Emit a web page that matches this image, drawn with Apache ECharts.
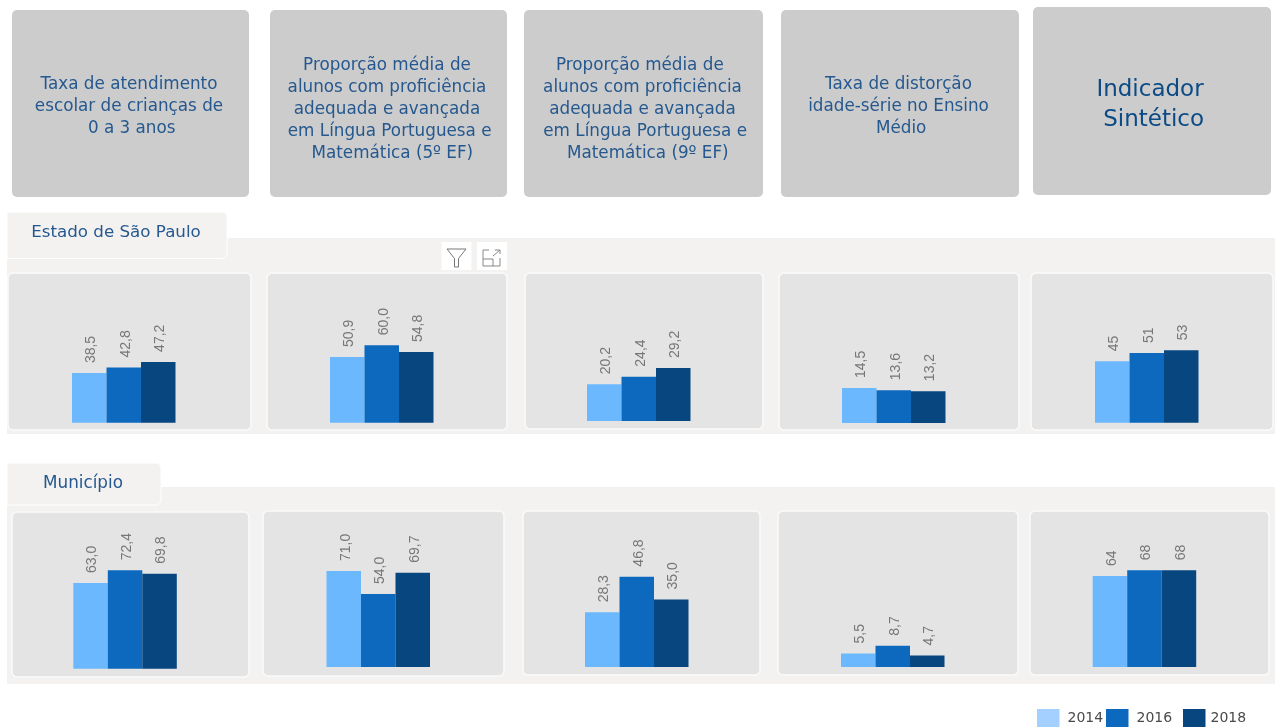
<!DOCTYPE html>
<html><head><meta charset="utf-8">
<style>html,body{margin:0;padding:0;background:#fff;overflow:hidden}#c{width:1277px;height:727px}</style>
<script src="https://cdn.jsdelivr.net/npm/echarts@6/dist/echarts.min.js"></script>
</head><body><div id="c"></div>
<script>
// ---- data ----
const years = ['2014', '2016', '2018'];
const indicators = [
  'Taxa de atendimento\nescolar de crianças de\n 0 a 3 anos',
  'Proporção média de\nalunos com proficiência\nadequada e avançada\n em Língua Portuguesa e\n  Matemática (5º EF)',
  'Proporção média de \nalunos com proficiência\nadequada e avançada\n em Língua Portuguesa e\n  Matemática (9º EF)',
  'Taxa de distorção\nidade-série no Ensino\n Médio',
  'Indicador\n Sintético'
];
const estado2014 = [38.5, 50.9, 20.2, 14.5, 45];
const estado2016 = [42.8, 60.0, 24.4, 13.6, 51];
const estado2018 = [47.2, 54.8, 29.2, 13.2, 53];
const municipio2014 = [63.0, 71.0, 28.3, 5.5, 64];
const municipio2016 = [72.4, 54.0, 46.8, 8.7, 68];
const municipio2018 = [69.8, 69.7, 35.0, 4.7, 68];
const decimals = [1, 1, 1, 1, 0];
// hidden value-axis maxima of each small multiple
const estadoAxisMax = [108.7, 108.5, 77.1, 58.0, 102.5];
const municipioAxisMax = [103.0, 103.5, 72.5, 57.1, 98.5];

// ---- layout & style ----
const W = 1277, H = 727;
const barColors = ['#6CB8FF', '#0D69BE', '#084680'];
const legendSwatch = ['#A3D0FF', '#0D69BE', '#084680'];
const textBlue = '#25588F';
const labelFont = '"Liberation Sans",sans-serif';
const uiFont = '"DejaVu Sans",sans-serif';
const headerCards = [[12,10,237,187],[270,10,237,187],[524,10,239,187],[781,10,238,187],[1033,7,238,188]];
const headerText = [[129,106.5,16.8],[387,109.5,16.8],[642.5,109.5,16.8],[898.5,106.5,16.8],[1150,105,23]];
const cards1 = [[8,273,243,157],[267,273,240,157],[525,273,238,156],[779,273,240,157],[1031,273,242,157]];
const cards2 = [[12,512,237,165],[263,511,241,165],[523,511,237,164],[778,511,240,164],[1030,511,239,164]];
const plots1 = [[72,422.7],[330,422.7],[587,421],[842,423],[1095,422.7]];
const plots2 = [[73.3,668.7],[326.5,667],[585,667],[841,667],[1092.7,667]];
const plotW = 103.5, plotH = 140;

const graphic = [];
const rect = (x,y,w,h,fill,r,stroke,lw) => graphic.push({type:'rect',z:0,shape:{x,y,width:w,height:h,r:r||0},style:{fill,stroke:stroke||null,lineWidth:lw||0}});
const txt = (x,y,text,size,fill,align) => graphic.push({type:'text',z:1,x,y,style:{text,font:`${size}px ${uiFont}`,fill,align:align||'center',verticalAlign:'middle',lineHeight:size>20?30:22}});

headerCards.forEach((c,i)=>{
  rect(c[0],c[1],c[2],c[3],'#CCCCCC',5);
  const t = headerText[i];
  txt(t[0],t[1],indicators[i],t[2],i===4?'#0B4A85':textBlue);
});
// section panels
rect(7,238,1268,196,'#F3F2F1');
rect(7,487,1268,197,'#F3F2F1');
rect(7,212,220,46.5,'#F3F2F1',[0,5,5,0],'#FFFFFF',1);
rect(7,463,154,42,'#F3F2F1',[0,5,5,0],'#FFFFFF',1);
txt(116,233,'Estado de São Paulo',16.7,textBlue);
txt(83,484,'Município',16.8,textBlue);
cards1.concat(cards2).forEach(c=>rect(c[0],c[1],c[2],c[3],'#E4E4E4',5,'#FAFAFA',1.5));
// visual header icons
rect(441.5,242,30,28,'#FFFFFF');
rect(477,242,30,28,'#FFFFFF');
graphic.push({type:'polygon',z:1,shape:{points:[[447,249],[466,249],[458.5,258.5],[458.5,267],[454.5,267],[454.5,258.5]]},style:{fill:'none',stroke:'#777',lineWidth:1}});
graphic.push({type:'polyline',z:1,shape:{points:[[489,250],[483,250],[483,266],[500,266],[500,258]]},style:{fill:'none',stroke:'#888',lineWidth:1}});
graphic.push({type:'polyline',z:1,shape:{points:[[483,259],[493,259],[493,266]]},style:{fill:'none',stroke:'#888',lineWidth:1}});
graphic.push({type:'polyline',z:1,shape:{points:[[493,256],[500,250]]},style:{fill:'none',stroke:'#888',lineWidth:1}});
graphic.push({type:'polyline',z:1,shape:{points:[[495,250],[500,250],[500,254]]},style:{fill:'none',stroke:'#888',lineWidth:1}});

const grid=[], xAxis=[], yAxis=[], series=[];
function addRow(plots, axisMax, valueLists){
  plots.forEach((p,i)=>{
    const g = grid.length;
    grid.push({left:p[0],top:p[1]-plotH,width:plotW,height:plotH});
    xAxis.push({type:'category',gridIndex:g,data:[indicators[i].replace(/\s*\n\s*/g,' ')],show:false});
    yAxis.push({type:'value',gridIndex:g,min:0,max:axisMax[i],show:false});
    years.forEach((y,k)=>{
      series.push({
        type:'bar',name:y,xAxisIndex:g,yAxisIndex:g,data:[valueLists[k][i]],
        barGap:0,barCategoryGap:0,silent:true,
        itemStyle:{color:barColors[k]},
        label:{show:true,position:'top',distance:10,rotate:90,align:'left',verticalAlign:'middle',offset:[0,2],
          color:'#777777',fontFamily:labelFont,fontSize:14,
          formatter:o=>o.value.toFixed(decimals[i]).replace('.',',')}
      });
    });
  });
}
addRow(plots1, estadoAxisMax, [estado2014,estado2016,estado2018]);
addRow(plots2, municipioAxisMax, [municipio2014,municipio2016,municipio2018]);

const legendLeft=[1037,1106,1183], legendTop=[709,709,709], legendPad=[3,3,0];
const legend = years.map((y,k)=>({
  left:legendLeft[k],top:legendTop[k],padding:0,orient:'horizontal',itemWidth:22.5,itemHeight:18,icon:'rect',selectedMode:false,
  data:[{name:y,itemStyle:{color:legendSwatch[k],borderWidth:0}}],
  textStyle:{color:'#4A4A4A',fontFamily:uiFont,fontSize:14,padding:[k===1?1:10,0,0,legendPad[k]]}
}));

const chart = echarts.init(document.getElementById('c'),null,{width:W,height:H,renderer:'canvas'});
chart.setOption({animation:false,backgroundColor:'#FFFFFF',tooltip:{show:false},graphic:{elements:graphic},grid,xAxis,yAxis,series,legend});
</script></body></html>
